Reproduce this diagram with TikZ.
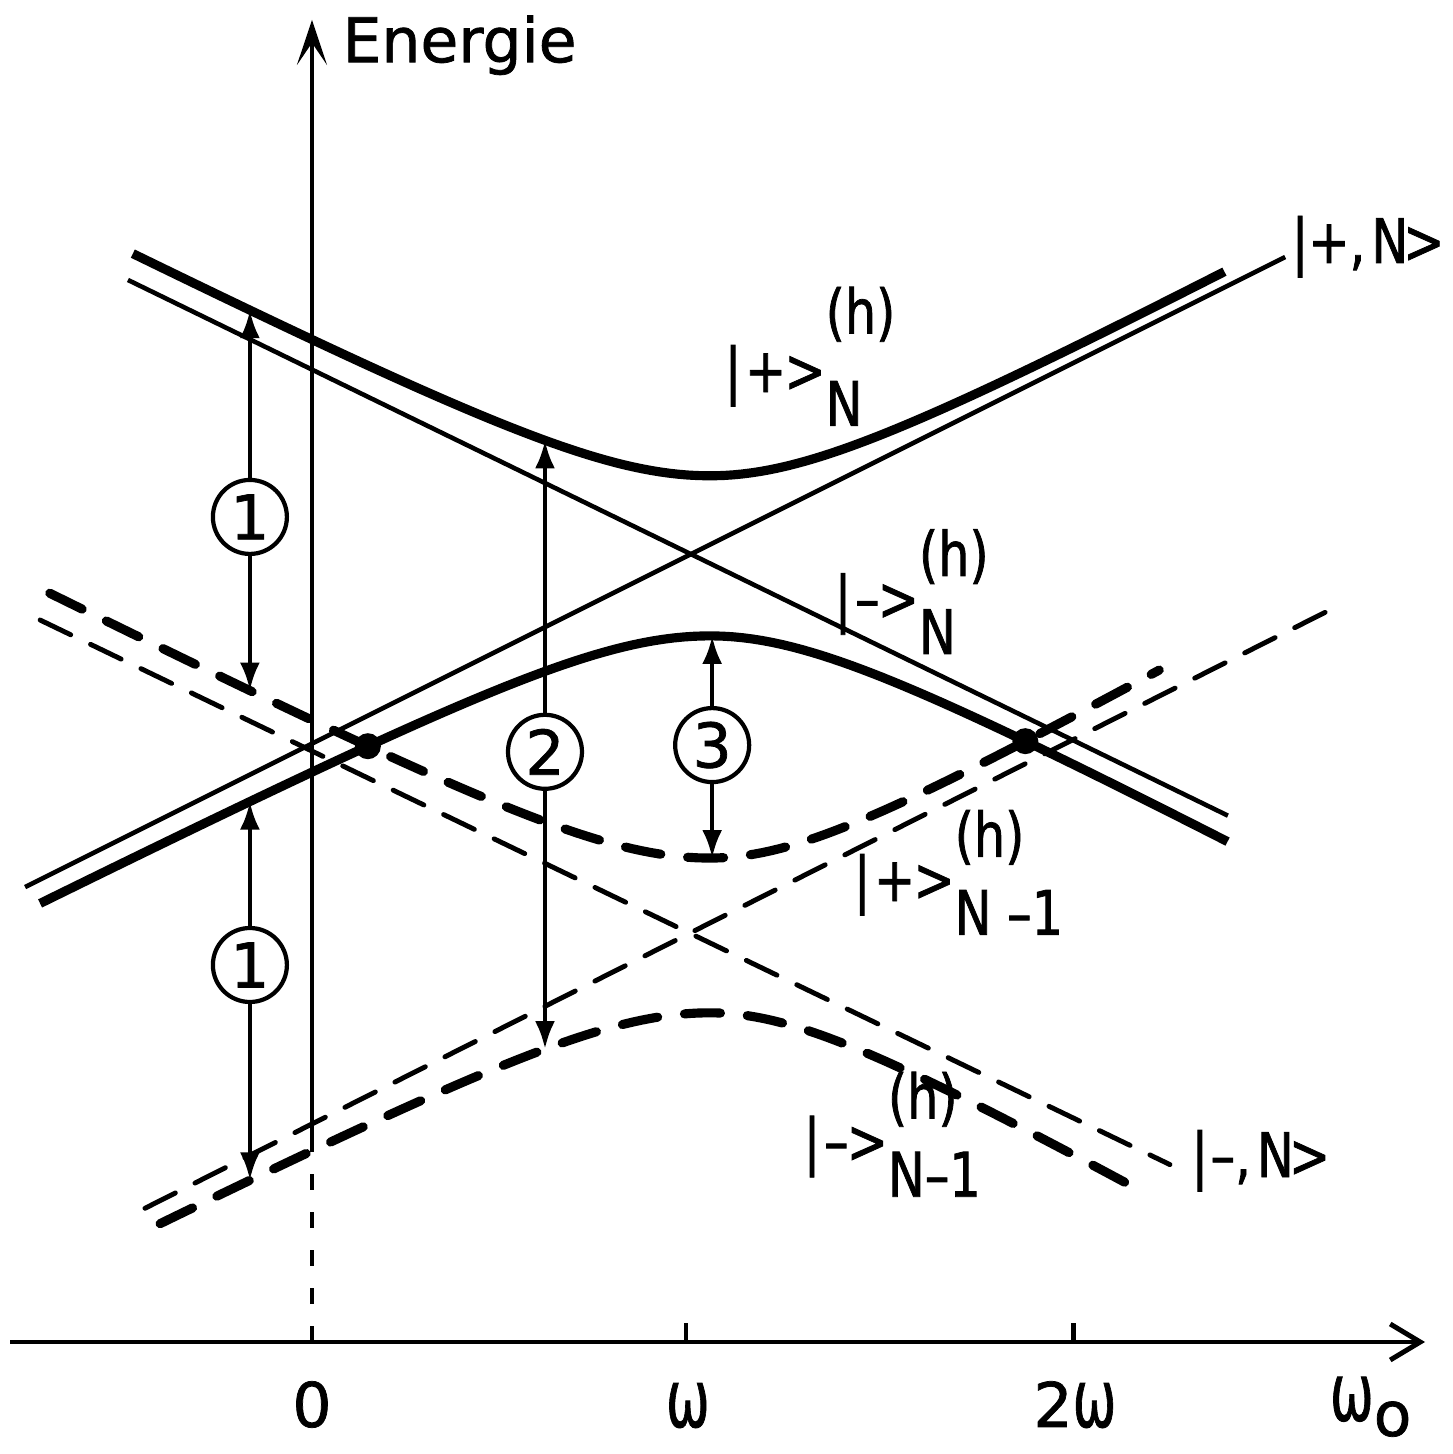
\documentclass[tikz,border=0pt]{standalone}
\usepackage{fontspec}
\usepackage{graphicx}
\setmainfont{DejaVu Sans}[FakeBold=1.2]
\newfontfamily\ketfont{DejaVu Sans}[FakeStretch=0.8,FakeBold=1.2]
\usetikzlibrary{positioning,arrows.meta,intersections}
\tikzset{
  declare function={
    ks(\x)=0.53-0.025*(\x<1.064);
    kd(\x)=0.565-0.06*(\x<1.064);
    hs(\x)=sqrt(ks(\x)*ks(\x)*(\x-1.064)*(\x-1.064)+0.0458);
    hd(\x)=sqrt(kd(\x)*kd(\x)*(\x-1.064)*(\x-1.064)+0.0428);
    eup(\x)=2.102+hs(\x);
    elo(\x)=2.102-hs(\x);
    fup(\x)=1.087+hd(\x);
    flo(\x)=1.087-hd(\x);
  },
  bare/.style    ={line width=1.3pt},
  dressed/.style ={line width=2.6pt},
  bared/.style   ={line width=1.4pt, line cap=round, dash pattern=on 3.4mm off 2.2mm},
  dressedd/.style={line width=2.6pt, line cap=round, dash pattern=on 3.6mm off 2.7mm},
  ax/.style      ={line width=1.4pt},
  arr/.style     ={-{Latex[length=2.8mm,width=2mm]}, line width=1.3pt},
  num/.style     ={draw, circle, line width=1.2pt, minimum size=7.4mm, inner sep=0pt},
  lbl/.style     ={anchor=base west, inner sep=0pt},
  ket/.style     ={anchor=base west, inner sep=0pt, font=\fontsize{17.5}{20}\ketfont},
}
\newcommand{\om}{\scalebox{0.85}[1.3]{ω}}
\newcommand{\lvl}[3][0.72em]{|\kern0.06em#2\kern-0.03em>\rlap{\raisebox{#1}{(h)}}\raisebox{-0.55em}{#3}}

\begin{document}
\begin{tikzpicture}[x=3.74cm, y=3.74cm, font=\fontsize{17.5}{20}\selectfont]
  \useasboundingbox (-0.8342,-0.2995) rectangle (3.0508,3.5882);
  \coordinate (o) at (0,0);
  \coordinate (xl) at (-0.807,0);
  \coordinate (xr) at (2.976,0);
  \coordinate (yb) at (0,{flo(0)});
  \coordinate (yt) at (0,3.535);
  \draw[ax, -{Straight Barb[length=3mm,width=3.6mm]}] (xl) -- (xr);
  \draw[ax, -{Stealth[length=4.5mm,width=3mm,inset=2.2mm]}] (yb) -- (yt);
  \draw[ax, dash pattern=on 1.6mm off 2.2mm] (o) -- (yb);
  \draw[ax] (1,0) -- (1,0.05) (2.035,0) -- (2.035,0.05);
  \node[lbl] (en) at (0.080,3.422) {Energie};
  \node[anchor=base] (t0) at (0,-0.227) {0};
  \node[anchor=base] (t1) at (1.005,-0.227) {\om};
  \node[anchor=base] (t2) at (2.04,-0.227) {2\om};
  \node[lbl] (tw) at (2.72,-0.21) {\om\raisebox{-0.25em}{o}};

  \draw[bare] (-0.767,1.2165) -- (2.602,2.901);
  \draw[bare] (-0.492,2.8396) -- (2.449,1.4073);
  \draw[bared] (-0.727,1.9304) -- (2.294,0.4743);
  \draw[bared] (-0.4465,0.3575) -- (2.709,1.951);

  \draw[dressed, name path=su] plot[domain=-0.479:2.441, samples=121] (\x,{eup(\x)});
  \draw[dressed, name path=sl] plot[domain=-0.727:2.449, samples=121] (\x,{elo(\x)});
  \draw[dressedd, name path=du] plot[domain=-0.701:2.267, samples=121] (\x,{fup(\x)});
  \draw[dressedd, name path=dl] plot[domain=-0.406:2.214, samples=121] (\x,{flo(\x)});
  \fill[name intersections={of=sl and du, name=xc}] (xc-1) circle (1.3mm) (xc-2) circle (1.3mm);

  \node[num] (n1a) at (-0.166,2.206) {1};
  \node[num] (n1b) at (-0.166,1.008) {1};
  \node[num] (n2) at (0.623,1.578) {2};
  \node[num] (n3) at (1.07,1.596) {3};
  \coordinate (p1a) at (-0.166,{eup(-0.166)});
  \coordinate (q1a) at (-0.166,{fup(-0.166)});
  \coordinate (p1b) at (-0.166,{elo(-0.166)});
  \coordinate (q1b) at (-0.166,{flo(-0.166)});
  \coordinate (p2) at (0.623,{eup(0.623)});
  \coordinate (q2) at (0.623,{flo(0.623)});
  \coordinate (p3) at (1.07,{elo(1.07)});
  \coordinate (q3) at (1.07,{fup(1.07)});
  \draw[arr] (n1a) -- (p1a);
  \draw[arr] (n1a) -- (q1a);
  \draw[arr] (n1b) -- (p1b);
  \draw[arr] (n1b) -- (q1b);
  \draw[arr] (n2) -- (p2);
  \draw[arr] (n2) -- (q2);
  \draw[arr] (n3) -- (p3);
  \draw[arr] (n3) -- (q3);

  \node[ket] (kpn) at (1.102,2.540) {\lvl[0.95em]{+}{N}};
  \node[ket] (kmn) at (1.396,1.930) {\lvl{–}{N}};
  \node[ket] (kpm) at (1.447,1.179) {\lvl{+}{N –1}};
  \node[ket] (kmm) at (1.313,0.479) {\lvl{–}{N–1}};
  \node[ket] (kpN) at (2.618,2.885) {|\kern0em+,\kern0.1em N\kern-0.08em>};
  \node[ket] (kmN) at (2.350,0.441) {|\kern0.04em–,\kern0.1em N\kern-0.08em>};
\end{tikzpicture}
\end{document}
